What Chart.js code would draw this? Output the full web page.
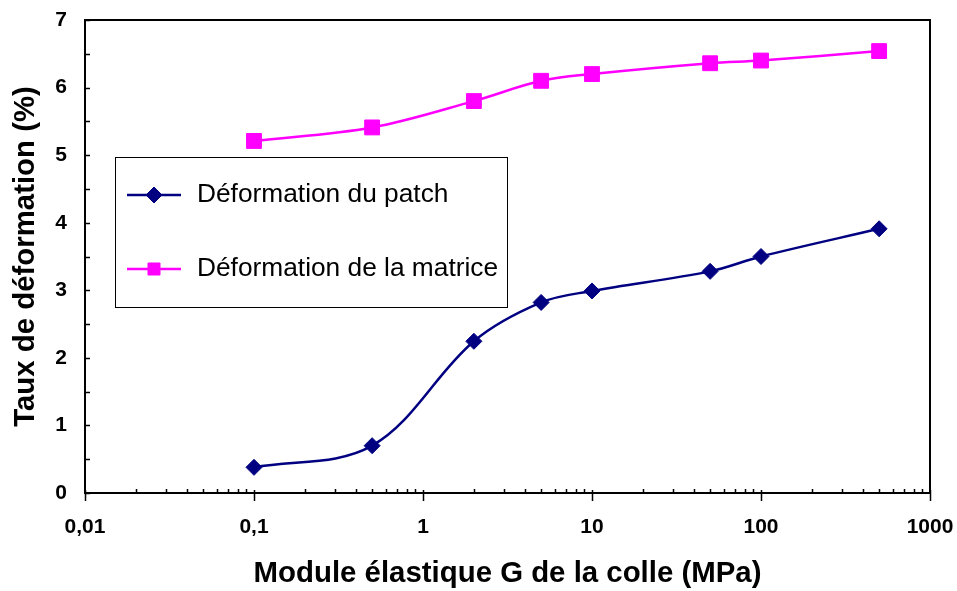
<!DOCTYPE html>
<html>
<head>
<meta charset="utf-8">
<script src="https://cdn.jsdelivr.net/npm/chart.js@4/dist/chart.umd.min.js"></script>
<style>
  html, body { margin: 0; padding: 0; background: #fff; }
  #wrap { width: 957px; height: 591px; }
</style>
</head>
<body>
<div id="wrap"><canvas id="c" width="957" height="591"></canvas></div>
<script>
// ---- data ----
const modulusG = [0.1, 0.5, 2, 5, 10, 50, 100, 500];           // MPa
const patchStrain = [0.38, 0.70, 2.245, 2.82, 2.99, 3.28, 3.50, 3.91];
const matrixStrain = [5.21, 5.41, 5.80, 6.10, 6.20, 6.36, 6.40, 6.54];
const seriesNames = ['Déformation du patch', 'Déformation de la matrice'];
const xTickValues = [0.01, 0.1, 1, 10, 100, 1000];
const xTickLabels = ['0,01', '0,1', '1', '10', '100', '1000'];
const yTickValues = [0, 1, 2, 3, 4, 5, 6, 7];
const xTitle = 'Module élastique G de la colle (MPa)';
const yTitle = 'Taux de déformation (%)';

const FONT = "'Liberation Sans', Arial, Helvetica, sans-serif";

const toPoints = (xs, ys) => xs.map((x, i) => ({ x: x, y: ys[i] }));

const framePlugin = {
  id: 'frameTicksLegend',
  afterDraw(chart) {
    const { ctx, chartArea: a, scales } = chart;
    const x = scales.x, y = scales.y;
    ctx.save();
    ctx.strokeStyle = '#000';
    ctx.lineWidth = 2;
    ctx.strokeRect(a.left, a.top, a.right - a.left, a.bottom - a.top);

    // y ticks (inward), major + half minor
    ctx.lineWidth = 1.5;
    ctx.beginPath();
    for (let i = 0; i < yTickValues.length; i++) {
      const v = yTickValues[i];
      const py = Math.round(y.getPixelForValue(v)) + 0.5;
      ctx.moveTo(a.left, py); ctx.lineTo(a.left + 5, py);
      if (i < yTickValues.length - 1) {
        const pm = Math.round(y.getPixelForValue(v + 0.5)) + 0.5;
        ctx.moveTo(a.left, pm); ctx.lineTo(a.left + 5, pm);
      }
    }
    // x ticks: major crossing, minor inward
    for (let i = 0; i < xTickValues.length; i++) {
      const d = xTickValues[i];
      const px = Math.round(x.getPixelForValue(d)) + 0.5;
      ctx.moveTo(px, a.bottom - 3); ctx.lineTo(px, a.bottom + 8);
      if (i < xTickValues.length - 1) {
        for (let m = 2; m <= 9; m++) {
          const pm = Math.round(x.getPixelForValue(d * m)) + 0.5;
          ctx.moveTo(pm, a.bottom - 4); ctx.lineTo(pm, a.bottom + 1);
        }
      }
    }
    ctx.stroke();

    // legend box
    const L = chart.options.plugins.frameTicksLegend;
    ctx.lineWidth = 1;
    ctx.strokeStyle = '#000';
    ctx.fillStyle = '#fff';
    ctx.fillRect(L.left, L.top, L.right - L.left, L.bottom - L.top);
    ctx.strokeRect(L.left + 0.5, L.top + 0.5, L.right - L.left, L.bottom - L.top);
    chart.data.datasets.forEach((ds, i) => {
      const ry = L.rows[i];
      ctx.strokeStyle = ds.borderColor;
      ctx.lineWidth = ds.borderWidth;
      ctx.beginPath();
      ctx.moveTo(L.lineX0, ry); ctx.lineTo(L.lineX1, ry);
      ctx.stroke();
      ctx.fillStyle = ds.pointBackgroundColor;
      ctx.strokeStyle = ds.pointBorderColor;
      ctx.lineWidth = 1;
      Chart.helpers.drawPoint(ctx, { pointStyle: ds.pointStyle, radius: L.markerRadius[i], rotation: 0, borderWidth: 1 },
        (L.lineX0 + L.lineX1) / 2, ry);
      ctx.fillStyle = '#000';
      ctx.font = L.font;
      ctx.textAlign = 'left';
      ctx.textBaseline = 'middle';
      ctx.fillText(ds.label, L.textX, ry);
    });
    ctx.restore();
  }
};

new Chart(document.getElementById('c'), {
  type: 'line',
  data: {
    datasets: [
      {
        label: seriesNames[0],
        data: toPoints(modulusG, patchStrain),
        borderColor: '#000080',
        backgroundColor: '#000080',
        pointBackgroundColor: '#000080',
        pointBorderColor: '#000080',
        pointStyle: 'rectRot',
        pointRadius: 8,
        pointBorderWidth: 1,
        borderWidth: 2.5,
        tension: 0.35,
        fill: false
      },
      {
        label: seriesNames[1],
        data: toPoints(modulusG, matrixStrain),
        borderColor: '#FF00FF',
        backgroundColor: '#FF00FF',
        pointBackgroundColor: '#FF00FF',
        pointBorderColor: '#FF00FF',
        pointStyle: 'rect',
        pointRadius: 10.5,
        pointBorderWidth: 1,
        borderWidth: 2.5,
        tension: 0.35,
        fill: false
      }
    ]
  },
  options: {
    responsive: false,
    devicePixelRatio: 1,
    animation: false,
    layout: { padding: { top: 20, right: 27, left: 0, bottom: 0 } },
    plugins: {
      legend: { display: false },
      tooltip: { enabled: false },
      frameTicksLegend: {
        left: 115, top: 157, right: 507, bottom: 307,
        rows: [195, 269],
        lineX0: 127, lineX1: 181,
        textX: 197,
        markerRadius: [8, 8.5],
        font: '26.3px ' + FONT
      }
    },
    scales: {
      x: {
        type: 'logarithmic',
        min: 0.01,
        max: 1000,
        afterBuildTicks: (scale) => { scale.ticks = xTickValues.map(v => ({ value: v })); },
        afterFit: (scale) => {
          scale.height = 98;
          scale.paddingLeft = 0; scale.paddingRight = 0;
          scale.paddingTop = 0; scale.paddingBottom = 0;
        },
        grid: { display: false, drawTicks: false },
        border: { display: true, color: '#000', width: 2 },
        ticks: {
          autoSkip: false,
          maxRotation: 0,
          padding: 22,
          color: '#000',
          font: { family: FONT, size: 21, weight: 'bold' },
          callback: (value, index) => xTickLabels[index]
        },
        title: {
          display: true,
          text: xTitle,
          color: '#000',
          font: { family: FONT, size: 29.4, weight: 'bold' },
          padding: { top: 0, bottom: -1 }
        }
      },
      y: {
        min: 0,
        max: 7,
        afterBuildTicks: (scale) => { scale.ticks = yTickValues.map(v => ({ value: v })); },
        afterFit: (scale) => {
          scale.width = 85;
          scale.paddingLeft = 0; scale.paddingRight = 0;
          scale.paddingTop = 0; scale.paddingBottom = 0;
        },
        grid: { display: false, drawTicks: false },
        border: { display: true, color: '#000', width: 2 },
        ticks: {
          padding: 18,
          color: '#000',
          font: { family: FONT, size: 21, weight: 'bold' },
          callback: (value) => String(value)
        },
        title: {
          display: true,
          text: yTitle,
          color: '#000',
          font: { family: FONT, size: 29.4, weight: 'bold' },
          padding: { top: 8, bottom: 0 }
        }
      }
    }
  },
  plugins: [framePlugin]
});
</script>
</body>
</html>
